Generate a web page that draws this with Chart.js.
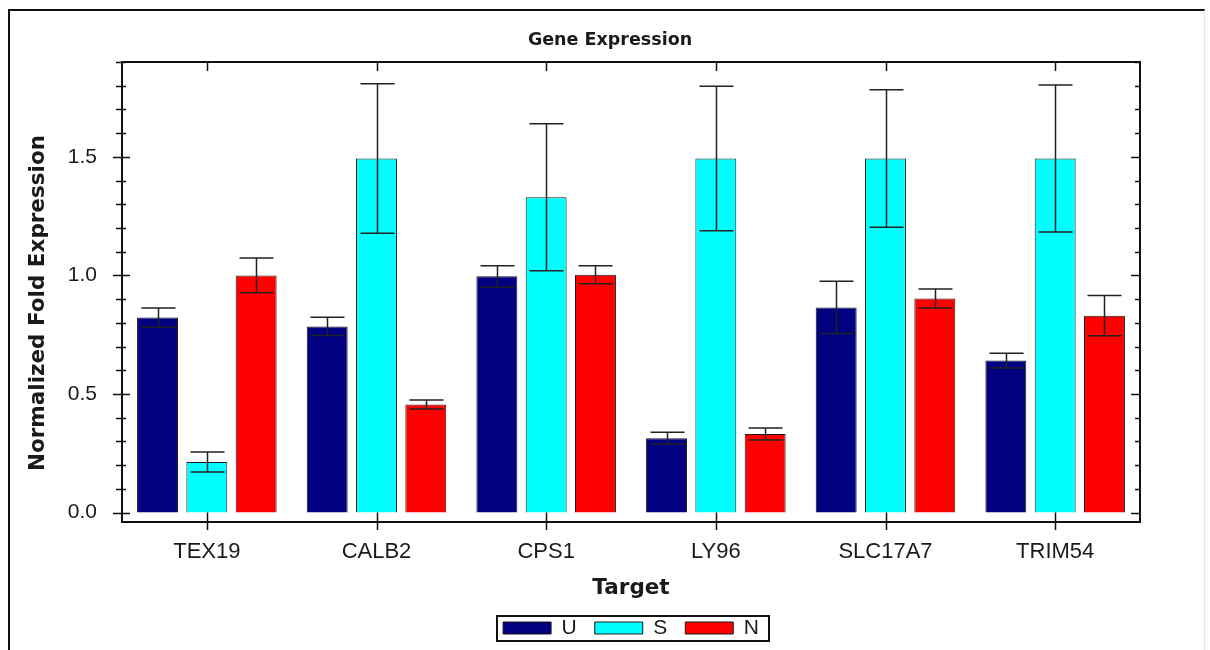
<!DOCTYPE html>
<html>
<head>
<meta charset="utf-8">
<title>Gene Expression</title>
<script src="https://cdn.jsdelivr.net/npm/chart.js@4.4.1/dist/chart.umd.min.js"></script>
<style>
  html, body { margin: 0; padding: 0; background: #fff; }
  #wrap { position: relative; width: 1210px; height: 650px; overflow: hidden; }
  #frame {
    position: absolute; left: 8px; top: 9px; width: 1194px; height: 700px;
    border-top: 2px solid #111; border-left: 2px solid #111; border-right: 1px solid #e4e4e4;
    pointer-events: none;
  }
  canvas { position: absolute; left: 0; top: 0; }
</style>
</head>
<body>
<div id="wrap">
  <canvas id="geneChart" width="1210" height="650"></canvas>
  <div id="frame"></div>
</div>
<script>
// qPCR targets and normalized fold expression per group
const targets = ['TEX19', 'CALB2', 'CPS1', 'LY96', 'SLC17A7', 'TRIM54'];
const seriesNames = ['U', 'S', 'N'];
const uValues = [0.822, 0.785, 0.996, 0.313, 0.865, 0.641];
const uErrors = [0.040, 0.038, 0.045, 0.025, 0.110, 0.031];
const sValues = [0.213, 1.493, 1.330, 1.493, 1.493, 1.493];
const sErrors = [0.042, 0.315, 0.310, 0.305, 0.290, 0.310];
const nValues = [1.000, 0.456, 1.003, 0.331, 0.903, 0.830];
const nErrors = [0.073, 0.019, 0.038, 0.025, 0.040, 0.085];
const yTicks = [0, 0.1, 0.2, 0.3, 0.4, 0.5, 0.6, 0.7, 0.8, 0.9, 1, 1.1, 1.2, 1.3, 1.4, 1.5, 1.6, 1.7, 1.8, 1.9];
const yLabelled = [0, 0.5, 1, 1.5];
const yTitle = 'Normalized Fold Expression';

const ink = '#1a1a1a';
const boldFont = 'DejaVu Sans';
Chart.defaults.font.family = '"Liberation Sans", Arial, sans-serif';
Chart.defaults.font.size = 21;
Chart.defaults.color = ink;

// error bars: vertical whisker with caps, drawn over each bar
const errorBars = {
  id: 'errorBars',
  afterDatasetsDraw(chart) {
    const { ctx, scales: { y } } = chart;
    ctx.save();
    ctx.strokeStyle = '#222';
    ctx.lineWidth = 1.5;
    chart.data.datasets.forEach((ds, di) => {
      chart.getDatasetMeta(di).data.forEach((bar, i) => {
        const v = ds.data[i], e = ds.errors[i];
        const top = y.getPixelForValue(v + e);
        const bot = y.getPixelForValue(v - e);
        const x = Math.round(bar.x) + 0.5;
        ctx.beginPath();
        ctx.moveTo(x, top); ctx.lineTo(x, bot);
        ctx.moveTo(x - 17, top); ctx.lineTo(x + 17, top);
        ctx.moveTo(x - 17, bot); ctx.lineTo(x + 17, bot);
        ctx.stroke();
      });
    });
    ctx.restore();
  }
};

// boxed plot area with minor/major ticks on all four sides, plus the y title
const axisFrame = {
  id: 'axisFrame',
  afterDraw(chart) {
    const { ctx, chartArea: a, scales: { x, y } } = chart;
    ctx.save();
    ctx.strokeStyle = '#111';
    ctx.lineWidth = 2;
    ctx.beginPath();
    ctx.moveTo(a.left, a.top);
    ctx.lineTo(a.right, a.top);
    ctx.lineTo(a.right, a.bottom);
    ctx.stroke();

    ctx.lineWidth = 1.5;
    y.ticks.forEach(t => {
      const py = Math.round(y.getPixelForValue(t.value)) + 0.5;
      const major = yLabelled.includes(t.value);
      ctx.beginPath();
      ctx.moveTo(a.left - (major ? 9 : 6), py);
      ctx.lineTo(a.left + (major ? 8 : 4), py);
      ctx.moveTo(a.right - (major ? 9 : 5), py);
      ctx.lineTo(a.right, py);
      ctx.stroke();
    });
    const zero = y.getPixelForValue(0);
    targets.forEach((_, i) => {
      const px = Math.round(x.getPixelForTick(i)) + 0.5;
      ctx.beginPath();
      ctx.moveTo(px, a.top);
      ctx.lineTo(px, a.top + 9);
      ctx.moveTo(px, zero);
      ctx.lineTo(px, a.bottom + 8);
      ctx.stroke();
    });

    ctx.translate(a.left - 84, (a.top + a.bottom) / 2 + 11);
    ctx.rotate(-Math.PI / 2);
    ctx.fillStyle = ink;
    ctx.font = 'bold 21.5px "' + boldFont + '"';
    ctx.textAlign = 'center';
    ctx.textBaseline = 'middle';
    ctx.fillText(yTitle, 0, 0);
    ctx.restore();
  }
};

// rectangle around the legend entries
const legendFrame = {
  id: 'legendFrame',
  afterDraw(chart) {
    const boxes = chart.legend.legendHitBoxes;
    if (!boxes || !boxes.length) return;
    const first = boxes[0], last = boxes[boxes.length - 1];
    const l = first.left - 6;
    const r = last.left + last.width + 10;
    const t = first.top - 2;
    const b = first.top + first.height + 2;
    const ctx = chart.ctx;
    ctx.save();
    ctx.strokeStyle = '#111';
    ctx.lineWidth = 2;
    ctx.strokeRect(Math.round(l), Math.round(t), Math.round(r - l), Math.round(b - t));
    ctx.restore();
  }
};

const barStyle = {
  borderColor: ink,
  borderWidth: 1,
  categoryPercentage: 0.872,
  barPercentage: 0.83
};

new Chart(document.getElementById('geneChart'), {
  type: 'bar',
  data: {
    labels: targets,
    datasets: [
      { label: seriesNames[0], data: uValues, errors: uErrors, backgroundColor: '#000080', ...barStyle },
      { label: seriesNames[1], data: sValues, errors: sErrors, backgroundColor: '#00ffff', ...barStyle },
      { label: seriesNames[2], data: nValues, errors: nErrors, backgroundColor: '#ff0000', ...barStyle }
    ]
  },
  options: {
    responsive: false,
    animation: false,
    layout: { padding: { top: 10, left: 10, right: 0, bottom: 1.5 } },
    plugins: {
      title: {
        display: true,
        text: 'Gene Expression',
        color: ink,
        font: { family: boldFont, weight: 'bold', size: 17.5 },
        padding: { top: 19.5, bottom: 11.5 }
      },
      legend: {
        position: 'bottom',
        fullSize: false,
        labels: { boxWidth: 48, boxHeight: 12, padding: 18, color: ink }
      },
      tooltip: { enabled: false }
    },
    scales: {
      x: {
        grid: { display: false, drawTicks: false },
        border: { color: '#111', width: 2 },
        ticks: { padding: 17, color: ink, autoSkip: false, font: { size: 22 } },
        title: {
          display: true,
          text: 'Target',
          color: ink,
          font: { family: boldFont, weight: 'bold', size: 21.5, lineHeight: 1 },
          padding: { top: 14, bottom: 0 }
        },
        afterFit: s => { s.height = 77.5; }
      },
      y: {
        min: -0.04,
        max: 1.9,
        afterBuildTicks: s => { s.ticks = yTicks.map(v => ({ value: v })); },
        grid: { display: false, drawTicks: false },
        border: { color: '#111', width: 2 },
        ticks: {
          padding: 25,
          color: ink,
          autoSkip: false,
          callback: v => (yLabelled.includes(v) ? v.toFixed(1) : '')
        },
        afterFit: s => { s.width = 112; }
      },
      yRight: {
        position: 'right',
        grid: { display: false, drawTicks: false },
        border: { display: false },
        ticks: { display: false },
        afterFit: s => { s.width = 70; }
      }
    }
  },
  plugins: [errorBars, axisFrame, legendFrame]
});
</script>
</body>
</html>
